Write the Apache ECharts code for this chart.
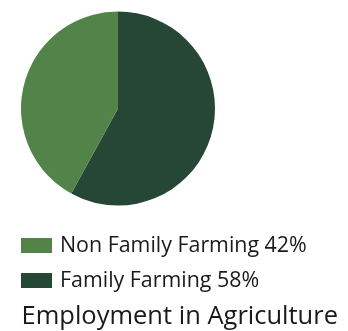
<!DOCTYPE html>
<html>
<head>
<meta charset="utf-8">
<script src="https://cdn.jsdelivr.net/npm/echarts@6/dist/echarts.min.js"></script>
<style>
  html, body { margin: 0; padding: 0; background: #ffffff; }
  #chart { width: 348px; height: 331px; }
</style>
</head>
<body>
<div id="chart"></div>
<script>
// Share of agricultural employment
const categories = ['Family Farming', 'Non Family Farming'];
const shares = [58, 42];
const colors = ['#264636', '#52844a'];
const legendOrder = ['Non Family Farming', 'Family Farming'];
const chartTitle = 'Employment in Agriculture';

const font = '"Open Sans", "Noto Sans", sans-serif';

const chart = echarts.init(document.getElementById('chart'), null, { renderer: 'canvas' });

const pieData = categories.map((name, i) => ({
  name: name,
  value: shares[i],
  itemStyle: { color: colors[i] }
}));

chart.setOption({
  animation: false,
  title: {
    text: chartTitle,
    left: 21.5,
    top: 304,
    padding: 0,
    textStyle: { fontFamily: font, fontSize: 25.5, fontWeight: 'normal', color: '#1a1a1a' }
  },
  legend: {
    data: legendOrder,
    orient: 'vertical',
    left: 21,
    top: 235,
    padding: 0,
    itemWidth: 31,
    itemHeight: 15,
    itemGap: 14,
    icon: 'rect',
    formatter: name => name + ' ' + shares[categories.indexOf(name)] + '%',
    textStyle: { fontFamily: font, fontSize: 21.4, color: '#1a1a1a', padding: [6, 0, 0, 3] },
    selectedMode: false
  },
  series: [{
    type: 'pie',
    center: [118, 108.5],
    radius: 97,
    startAngle: 90,
    clockwise: true,
    label: { show: false },
    labelLine: { show: false },
    itemStyle: { borderWidth: 0 },
    emphasis: { disabled: true },
    data: pieData
  }]
});
</script>
</body>
</html>
